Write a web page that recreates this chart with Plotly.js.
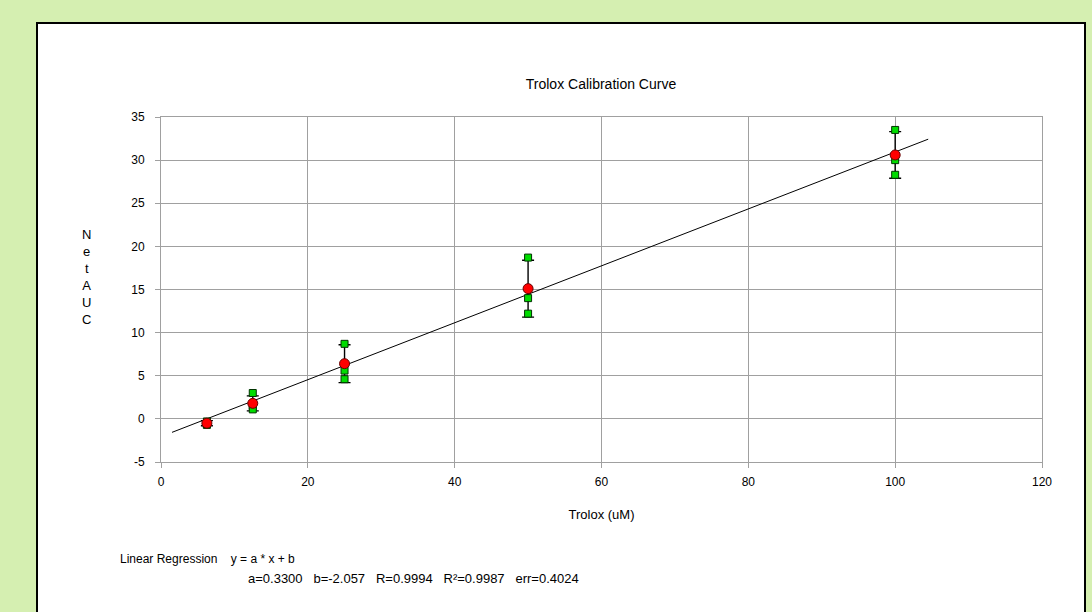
<!DOCTYPE html>
<html>
<head>
<meta charset="utf-8">
<script src="https://cdn.plot.ly/plotly-3.0.1.min.js"></script>
<style>
html,body{margin:0;padding:0;background:#d5efb1;}
#chart{width:1092px;height:612px;}
</style>
</head>
<body>
<div id="chart"></div>
<script>
// ---- data ----
var concentrations = [6.25, 12.5, 25, 50, 100];
var meanAUC = [-0.5, 1.8, 6.4, 15.1, 30.6];
var sdAUC = [0.3, 0.87, 2.2, 3.3, 2.7];
var repX = [6.25, 6.25, 6.25, 12.5, 12.5, 12.5, 25, 25, 25, 50, 50, 50, 100, 100, 100];
var repAUC = [-0.3, -0.6, -0.7, 3.0, 1.5, 1.1, 8.7, 5.6, 4.6, 18.7, 14.0, 12.2, 33.5, 30.0, 28.3];
var fitX = [1.5, 104.5];
var fitY = [-1.562, 32.428];
var xTicks = [0, 20, 40, 60, 80, 100, 120];
var yTicks = [-5, 0, 5, 10, 15, 20, 25, 30, 35];
var chartTitle = "Trolox Calibration Curve";
var xTitle = "Trolox (uM)";
var yTitle = "Net AUC";
var footLine1 = "Linear Regression    y = a * x + b";
var footLine2 = "a=0.3300   b=-2.057   R=0.9994   R\u00b2=0.9987   err=0.4024";

// ---- layout geometry (pixels) ----
var W = 1092, H = 612;
var L = 161, R = 1042, T = 117, B = 462;
function px(x){ return (x - L) / (R - L); }
function py(y){ return (B - y) / (B - T); }

var FONT = "Liberation Sans, Arial, sans-serif";

var traces = [
  {x: fitX, y: fitY, mode: "lines", type: "scatter",
   line: {color: "#000", width: 1}, hoverinfo: "skip", showlegend: false},
  {x: concentrations, y: meanAUC, mode: "markers", type: "scatter",
   marker: {size: 1, color: "rgba(0,0,0,0)"},
   error_y: {type: "data", array: sdAUC, visible: true, color: "#000", thickness: 1.4, width: 6},
   showlegend: false},
  {x: repX, y: repAUC, mode: "markers", type: "scatter",
   marker: {symbol: "square", size: 7, color: "#00dd00", line: {color: "#003300", width: 1}},
   showlegend: false},
  {x: concentrations, y: meanAUC, mode: "markers", type: "scatter",
   marker: {symbol: "circle", size: 10, color: "#ff0000", line: {color: "#660000", width: 1}},
   showlegend: false}
];

var axisCommon = {
  showgrid: true, gridcolor: "#a0a0a0", gridwidth: 1,
  showline: true, linecolor: "#a0a0a0", linewidth: 1, mirror: true,
  ticks: "outside", ticklen: 5, tickcolor: "#a0a0a0",
  zeroline: false,
  tickfont: {family: FONT, size: 12, color: "#000"}
};

var layout = {
  width: W, height: H,
  paper_bgcolor: "#d5efb1", plot_bgcolor: "#ffffff",
  margin: {l: L, r: W - R, t: T, b: H - B, pad: 0},
  font: {family: FONT, size: 12, color: "#000"},
  title: {text: chartTitle, font: {family: FONT, size: 14, color: "#000"},
          x: px(601), xref: "paper", xanchor: "center", y: 1 - 84 / H, yanchor: "middle"},
  xaxis: Object.assign({}, axisCommon, {
    range: [0, 120], tickvals: xTicks, ticktext: xTicks.map(String),
    ticklabelstandoff: 4,
    title: {text: xTitle, font: {family: FONT, size: 13, color: "#000"}, standoff: 21}
  }),
  yaxis: Object.assign({}, axisCommon, {
    range: [-5, 35], tickvals: yTicks, ticktext: yTicks.map(String),
    ticklabelstandoff: 8
  }),
  shapes: [
    {type: "rect", xref: "paper", yref: "paper", layer: "below",
     x0: px(37), x1: px(1085), y0: py(640), y1: py(23),
     fillcolor: "#ffffff", line: {color: "#000", width: 2}}
  ],
  annotations: [
    {xref: "paper", yref: "paper", x: px(86), y: py(277), xanchor: "center", yanchor: "middle",
     text: yTitle.replace(/ /g, "").split("").join("<br>"), showarrow: false,
     font: {family: FONT, size: 13, color: "#000"}},
    {xref: "paper", yref: "paper", x: px(118), y: py(559), xanchor: "left", yanchor: "middle",
     text: footLine1.replace(/ /g, "&nbsp;"), showarrow: false,
     font: {family: FONT, size: 12, color: "#000"}},
    {xref: "paper", yref: "paper", x: px(246), y: py(578), xanchor: "left", yanchor: "middle",
     text: footLine2.replace(/ /g, "&nbsp;"), showarrow: false,
     font: {family: FONT, size: 13, color: "#000"}}
  ],
  showlegend: false
};

Plotly.newPlot("chart", traces, layout, {displayModeBar: false, staticPlot: true});
</script>
</body>
</html>
